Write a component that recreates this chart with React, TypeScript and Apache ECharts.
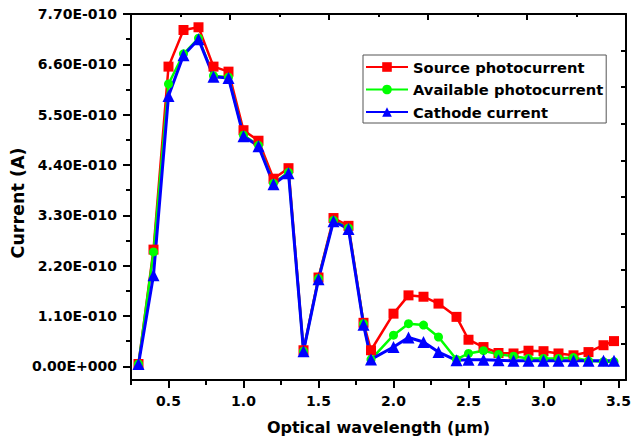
import React, { useEffect, useRef } from "react";
import * as echarts from "echarts";

// Optical wavelength (µm)
const wavelength = [0.3, 0.4, 0.5, 0.6, 0.7, 0.8, 0.9, 1.0, 1.1, 1.2, 1.3, 1.4, 1.5, 1.6, 1.7, 1.8, 1.85, 2.0, 2.1, 2.2, 2.3, 2.42, 2.5, 2.6, 2.7, 2.8, 2.9, 3.0, 3.1, 3.2, 3.3, 3.4, 3.47];
// Currents in units of 1E-010 A
const sourcePhotocurrent = [0.05, 2.55, 6.55, 7.35, 7.41, 6.55, 6.44, 5.16, 4.93, 4.1, 4.33, 0.35, 1.94, 3.24, 3.07, 0.95, 0.35, 1.15, 1.55, 1.52, 1.37, 1.08, 0.58, 0.42, 0.29, 0.28, 0.34, 0.33, 0.28, 0.24, 0.31, 0.46, 0.55];
const availablePhotocurrent = [0.05, 2.5, 6.17, 6.83, 7.17, 6.35, 6.32, 5.05, 4.83, 4.0, 4.24, 0.33, 1.92, 3.19, 3.02, 0.93, 0.15, 0.68, 0.93, 0.9, 0.64, 0.15, 0.28, 0.34, 0.26, 0.22, 0.17, 0.17, 0.17, 0.19, 0.12, 0.1, 0.1];
const cathodeCurrent = [0.05, 1.99, 5.91, 6.8, 7.15, 6.33, 6.3, 5.03, 4.81, 3.98, 4.22, 0.33, 1.9, 3.17, 3.0, 0.91, 0.15, 0.42, 0.63, 0.53, 0.31, 0.13, 0.14, 0.14, 0.13, 0.12, 0.12, 0.12, 0.12, 0.12, 0.12, 0.12, 0.12];

const seriesNames = ["Source photocurrent", "Available photocurrent", "Cathode current"];

// Tick values
const xMajorTicks = [0.5, 1.0, 1.5, 2.0, 2.5, 3.0, 3.5];
const xMinorTicks = [0.25, 0.75, 1.25, 1.75, 2.25, 2.75, 3.25];
const topLongTicks = [0.91, 1.57, 2.23, 2.89];
const topShortTicks = [0.58, 1.24, 1.9, 2.56, 3.22];
const yMajorTicks = [0, 1.1, 2.2, 3.3, 4.4, 5.5, 6.6, 7.7];
const yMinorTicks = [0.55, 1.65, 2.75, 3.85, 4.95, 6.05, 7.15];
const yRightTicks = [0.5, 1.3, 2.1, 2.9, 3.7, 4.5, 5.3, 6.1, 6.9];

const X_MIN = 0.25;
const X_MAX = 3.55;
const Y_MIN = -0.3;
const Y_MAX = 7.7;

const FONT = "'DejaVu Sans', 'Liberation Sans', Arial, sans-serif";

function fmtE(v: number): string {
  const a = v * 1e-10;
  if (Math.abs(a) < 1e-20) return "0.00E+000";
  const [m, e] = a.toExponential(2).split("e");
  const n = parseInt(e, 10);
  return `${m}E${n < 0 ? "-" : "+"}${String(Math.abs(n)).padStart(3, "0")}`;
}

export default function App() {
  const ref = useRef<HTMLDivElement>(null);

  useEffect(() => {
    if (!ref.current) return;
    const chart = echarts.init(ref.current, null, { renderer: "svg" });

    const line2 = { color: "#000", width: 2 };
    const baseX = { type: "value", min: X_MIN, max: X_MAX, splitLine: { show: false } };
    const baseY = { type: "value", min: Y_MIN, max: Y_MAX, splitLine: { show: false } };

    const mk = (ys: number[]) => wavelength.map((x, i) => [x, ys[i]]);

    chart.setOption({
      animation: false,
      backgroundColor: "#fff",
      textStyle: { fontFamily: FONT },
      grid: {
        left: 131,
        right: 5,
        top: 14,
        bottom: 64,
        containLabel: false,
        outerBoundsMode: "none",
      },
      legend: {
        orient: "vertical",
        left: 363,
        top: 55,
        itemWidth: 42,
        itemHeight: 12,
        itemGap: 6.5,
        padding: [4, 3, 3, 2],
        borderColor: "#555",
        borderWidth: 1,
        backgroundColor: "#fff",
        textStyle: { fontFamily: FONT, fontSize: 14.7, fontWeight: "bold", color: "#000", lineHeight: 16 },
        data: seriesNames,
      },
      xAxis: [
        {
          ...baseX,
          position: "bottom",
          axisLine: { onZero: false, lineStyle: line2 },
          axisTick: { customValues: xMajorTicks, length: 8, lineStyle: line2 },
          axisLabel: {
            customValues: xMajorTicks,
            formatter: (v: number) => v.toFixed(1),
            margin: 14,
            fontSize: 14,
            fontWeight: "bold",
            color: "#000",
            fontFamily: FONT,
          },
          name: "Optical wavelength (\u03bcm)",
          nameLocation: "middle",
          nameGap: 39,
          nameMoveOverlap: false,
          nameTextStyle: { fontSize: 16, fontWeight: "bold", color: "#000", fontFamily: FONT },
        },
        {
          ...baseX,
          position: "bottom",
          axisLine: { show: false, onZero: false },
          axisTick: { customValues: xMinorTicks, length: 5, lineStyle: line2 },
          axisLabel: { show: false },
        },
        {
          ...baseX,
          position: "top",
          axisLine: { onZero: false, lineStyle: line2 },
          axisTick: { customValues: topLongTicks, inside: true, length: 6, lineStyle: line2 },
          axisLabel: { show: false },
        },
        {
          ...baseX,
          position: "top",
          axisLine: { show: false, onZero: false },
          axisTick: { customValues: topShortTicks, inside: true, length: 3, lineStyle: line2 },
          axisLabel: { show: false },
        },
      ],
      yAxis: [
        {
          ...baseY,
          position: "left",
          axisLine: { onZero: false, lineStyle: line2 },
          axisTick: { customValues: yMajorTicks, length: 8, lineStyle: line2 },
          axisLabel: {
            customValues: yMajorTicks,
            formatter: fmtE,
            margin: 14,
            fontSize: 14,
            fontWeight: "bold",
            color: "#000",
            fontFamily: FONT,
          },
          name: "Current (A)",
          nameLocation: "middle",
          nameGap: 104,
          nameMoveOverlap: false,
          nameTextStyle: {
            fontSize: 17.5,
            fontWeight: "bold",
            color: "#000",
            fontFamily: FONT,
            padding: [0, 12, 0, 0],
          },
        },
        {
          ...baseY,
          position: "left",
          axisLine: { show: false, onZero: false },
          axisTick: { customValues: yMinorTicks, length: 5, lineStyle: line2 },
          axisLabel: { show: false },
        },
        {
          ...baseY,
          position: "right",
          axisLine: { onZero: false, lineStyle: line2 },
          axisTick: { customValues: yRightTicks, inside: true, length: 5, lineStyle: line2 },
          axisLabel: { show: false },
        },
      ],
      series: [
        {
          name: seriesNames[0],
          type: "line",
          xAxisIndex: 0,
          yAxisIndex: 0,
          data: mk(sourcePhotocurrent),
          symbol: "rect",
          symbolSize: 10,
          color: "#ff0000",
          lineStyle: { color: "#ff0000", width: 2.5 },
          itemStyle: { color: "#ff0000" },
        },
        {
          name: seriesNames[1],
          type: "line",
          xAxisIndex: 0,
          yAxisIndex: 0,
          data: mk(availablePhotocurrent),
          symbol: "circle",
          symbolSize: 9,
          color: "#00ff00",
          lineStyle: { color: "#00ff00", width: 2.5 },
          itemStyle: { color: "#00ff00" },
        },
        {
          name: seriesNames[2],
          type: "line",
          xAxisIndex: 0,
          yAxisIndex: 0,
          data: mk(cathodeCurrent),
          symbol: "triangle",
          symbolSize: 12,
          color: "#0000ff",
          lineStyle: { color: "#0000ff", width: 3 },
          itemStyle: { color: "#0000ff" },
        },
      ],
    });

    return () => chart.dispose();
  }, []);

  return (
    <div
      ref={ref}
      style={{ position: "fixed", left: 0, top: 0, width: 631, height: 444, background: "#fff" }}
    />
  );
}
